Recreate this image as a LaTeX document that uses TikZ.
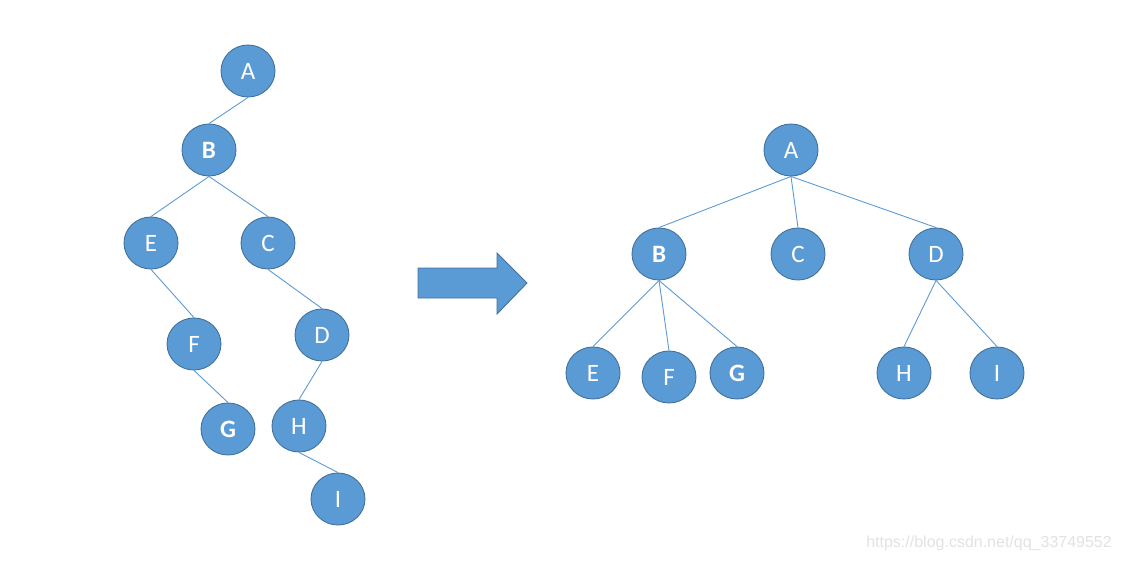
\documentclass[tikz,border=0pt]{standalone}
\usepackage{fontspec}
\setmainfont{Carlito}
\newfontfamily\wmfont{Liberation Sans}
\usetikzlibrary{shapes.geometric}
\definecolor{nodefill}{HTML}{5B9BD5}
\definecolor{nodeedge}{HTML}{41719C}
\definecolor{wm}{HTML}{E2E2E2}
\tikzset{
  tnode/.style={ellipse, draw=nodeedge, line width=0.9pt, fill=nodefill,
    minimum width=54pt, minimum height=52pt, inner sep=0pt,
    text=white, font=\fontsize{25}{25}\selectfont},
  bnode/.style={tnode, font=\fontsize{25}{25}\selectfont\bfseries},
  edge/.style={draw=nodefill, line width=0.9pt},
  bigarrow/.style={fill=nodefill, draw=nodeedge, line width=0.9pt}
}
\begin{document}
\begin{tikzpicture}[x=1pt,y=-1pt]
\useasboundingbox (0,0) rectangle (1121,562);
% left tree
\node[tnode] (lA) at (248,71) {A};
\node[bnode] (lB) at (209,150) {B};
\node[tnode] (lE) at (151,243) {E};
\node[tnode] (lC) at (268,243) {C};
\node[tnode] (lF) at (194,344) {F};
\node[tnode] (lD) at (322,335) {D};
\node[bnode] (lG) at (228,429) {G};
\node[tnode] (lH) at (299,426) {H};
\node[tnode] (lI) at (338,499) {I};
\draw[edge] (lA.south) -- (lB.north);
\draw[edge] (lB.south) -- (lE.north);
\draw[edge] (lB.south) -- (lC.north);
\draw[edge] (lE.south) -- (lF.north);
\draw[edge] (lC.south) -- (lD.north);
\draw[edge] (lF.south) -- (lG.north);
\draw[edge] (lD.south) -- (lH.north);
\draw[edge] (lH.south) -- (lI.north);
% arrow
\draw[bigarrow] (418,268) -- (497,268) -- (497,253) -- (527,283) -- (497,314) -- (497,298) -- (418,298) -- cycle;
% right tree
\node[tnode] (rA) at (791,150) {A};
\node[bnode] (rB) at (659,254) {B};
\node[tnode] (rC) at (798,254) {C};
\node[tnode] (rD) at (936,254) {D};
\node[tnode] (rE) at (593,373) {E};
\node[tnode] (rF) at (669,377) {F};
\node[bnode] (rG) at (737,373) {G};
\node[tnode] (rH) at (904,373) {H};
\node[tnode] (rI) at (997,373) {I};
\draw[edge] (rA.south) -- (rB.north);
\draw[edge] (rA.south) -- (rC.north);
\draw[edge] (rA.south) -- (rD.north);
\draw[edge] (rB.south) -- (rE.north);
\draw[edge] (rB.south) -- (rF.north);
\draw[edge] (rB.south) -- (rG.north);
\draw[edge] (rD.south) -- (rH.north);
\draw[edge] (rD.south) -- (rI.north);
% watermark
\node[anchor=east, text=wm, font=\wmfont\fontsize{16}{16}\selectfont, inner sep=0pt] (wm) at (1112,543) {https://blog.csdn.net/qq\_33749552};
\end{tikzpicture}
\end{document}
